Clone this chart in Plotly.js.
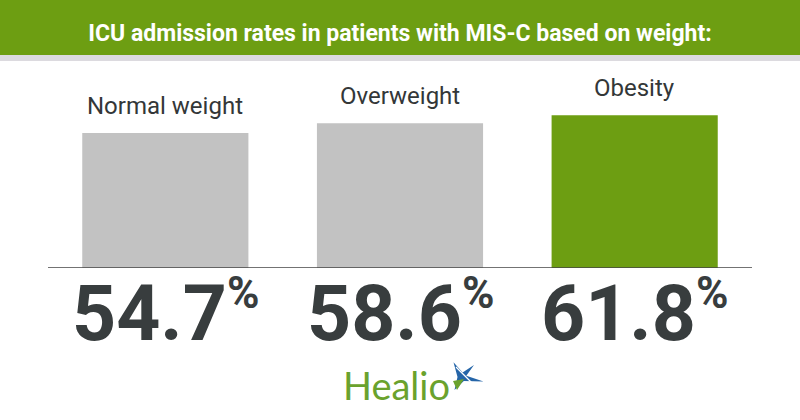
<!DOCTYPE html>
<html>
<head>
<meta charset="utf-8">
<script src="https://cdn.plot.ly/plotly-3.0.1.min.js"></script>
<style>html,body{margin:0;padding:0;background:#fff;}#chart{width:800px;height:420px;}</style>
</head>
<body>
<div id="chart"></div>
<script>
const categories = ["Normal weight", "Overweight", "Obesity"];
const values = [54.7, 58.6, 61.8];
const valueLabels = ["54.7", "58.6", "61.8"];
const titleText = "ICU admission rates in patients with MIS-C based on weight:";
const brandText = "Healio";

const barColors = ["#c2c2c2", "#c2c2c2", "#6d9e12"];
const W = 800, H = 420, ML = 48, MR = 48, MT = 21, MB = 152;
const PW = W - ML - MR, PH = H - MT - MB;
const px = x => (x - ML) / PW;
const py = y => (H - MB - y) / PH;

const trace = {
  type: "bar",
  x: categories,
  y: values,
  width: 0.708,
  marker: {color: barColors},
  hoverinfo: "skip"
};

const annotations = [];
categories.forEach((c, i) => {
  annotations.push({
    x: c, y: values[i], xref: "x", yref: "y",
    text: c, showarrow: false, yanchor: "middle", yshift: 27,
    font: {family: "Roboto, sans-serif", size: 24, color: "#333738"}
  });
  annotations.push({
    x: c, y: 0, xref: "x", yref: "y",
    text: valueLabels[i] + "<sup><span style=\"font-size:44px\">%</span></sup>", showarrow: false,
    yanchor: "middle", yshift: -45,
    font: {family: "Roboto, sans-serif", size: 77, color: "#383d3e", weight: "bold"}
  });
});
annotations.push({
  x: px(396), y: py(385), xref: "paper", yref: "paper",
  text: brandText, showarrow: false, xanchor: "center", yanchor: "middle",
  font: {family: "Lato, sans-serif", size: 38, color: "#6aa22d"}
});

// star decoration
function starPath(rays, inner) {
  let pts = [];
  for (let i = 0; i < rays.length; i++) {
    const a = rays[i][0] * Math.PI / 180, r = rays[i][1];
    pts.push([r * Math.cos(a), r * Math.sin(a)]);
    const next = rays[(i + 1) % rays.length][0];
    let mid = (rays[i][0] + (next < rays[i][0] ? next : next - 360)) / 2;
    const b = mid * Math.PI / 180;
    pts.push([inner * Math.cos(b), inner * Math.sin(b)]);
  }
  return "M" + pts.map(p => p[0].toFixed(1) + "," + p[1].toFixed(1)).join(" L") + " Z";
}
const starRays = [[120, 17], [45, 17], [-12, 22], [-120, 15]];

const shapes = [
  {type: "rect", xref: "paper", yref: "paper", x0: -0.1, x1: 1.1, y0: py(55), y1: py(-2),
   fillcolor: "#6d9e12", line: {width: 0}, layer: "below"},
  {type: "rect", xref: "paper", yref: "paper", x0: -0.1, x1: 1.1, y0: py(61), y1: py(55),
   fillcolor: "#dcdadf", line: {width: 0}, layer: "below"},
  {type: "line", xref: "paper", yref: "y", x0: 0, x1: 1, y0: 0, y1: 0,
   line: {color: "#444", width: 1.5}},
  {type: "path", xref: "paper", yref: "paper", xsizemode: "pixel", ysizemode: "pixel",
   xanchor: px(462), yanchor: py(377), path: starPath(starRays, 4.5),
   fillcolor: "#2565a8", line: {width: 0}},
  {type: "path", xref: "paper", yref: "paper", xsizemode: "pixel", ysizemode: "pixel",
   xanchor: px(462), yanchor: py(377), path: "M-9,-4 L2,-2 L-5,-13 Z",
   fillcolor: "#6aa22d", line: {width: 0}},
  {type: "line", xref: "paper", yref: "paper", xsizemode: "pixel", ysizemode: "pixel",
   xanchor: px(462), yanchor: py(377), x0: -6, y0: 10, x1: 12, y1: -8,
   line: {color: "#ffffff", width: 1.2}}
];

const layout = {
  width: W, height: H,
  margin: {l: ML, r: MR, t: MT, b: MB, pad: 0},
  paper_bgcolor: "#ffffff", plot_bgcolor: "#ffffff",
  showlegend: false,
  title: {text: titleText, x: 0.5, xref: "paper", y: 1 - 33 / H, yref: "container",
          yanchor: "middle", xanchor: "center",
          font: {family: "Roboto, sans-serif", size: 23, color: "#ffffff", weight: "bold"}},
  xaxis: {type: "category", range: [-0.5, 2.5], showticklabels: false, showgrid: false,
          zeroline: false, showline: false, ticks: "", fixedrange: true},
  yaxis: {range: [0, 100], visible: false, showgrid: false, zeroline: false, fixedrange: true},
  annotations: annotations,
  shapes: shapes
};

Plotly.newPlot("chart", [trace], layout, {staticPlot: true, displayModeBar: false});
</script>
</body>
</html>
